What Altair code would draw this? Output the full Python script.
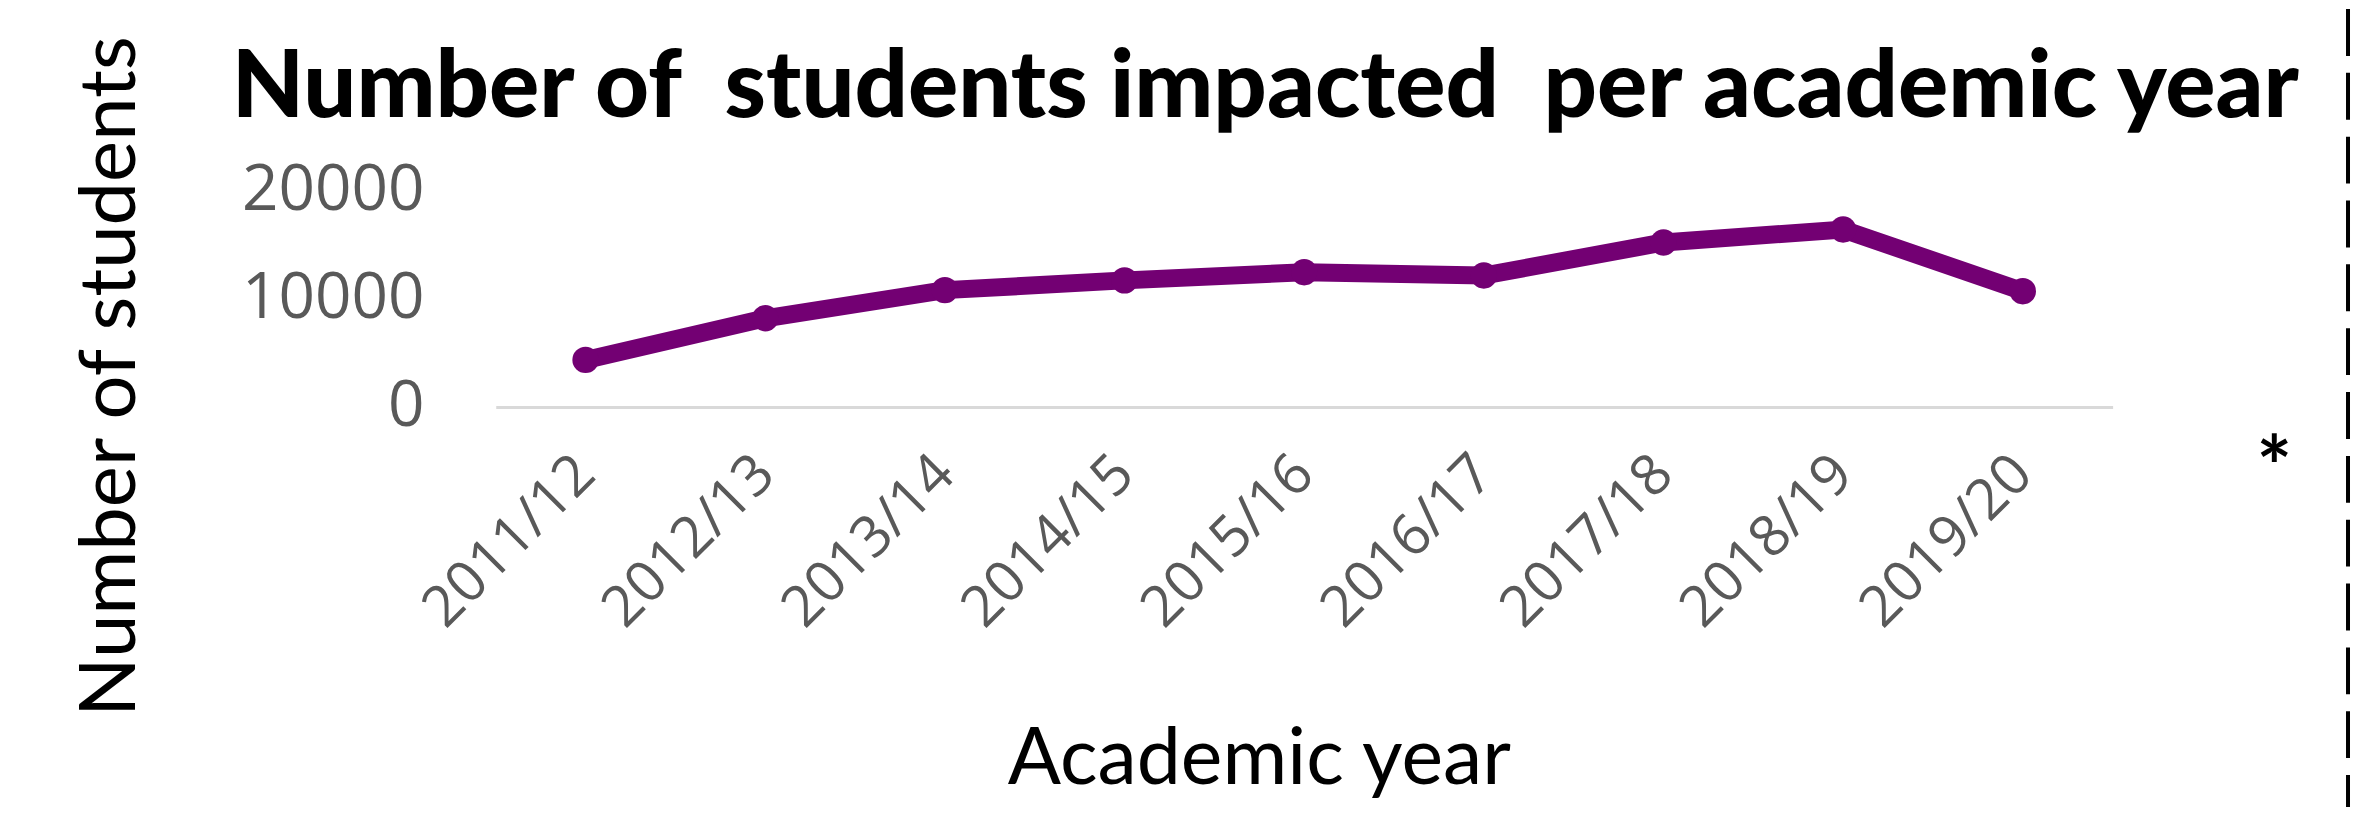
import altair as alt
import pandas as pd

years = ["2011/12", "2012/13", "2013/14", "2014/15", "2015/16",
         "2016/17", "2017/18", "2018/19", "2019/20"]
students = [4350, 8200, 10800, 11700, 12450, 12150, 15200, 16400, 10700]
y_ticks = [0, 10000, 20000]

df = pd.DataFrame({"year": years, "students": students})

PURPLE = "#730073"
LABEL_GRAY = "#595959"

x_enc = alt.X(
    "year:N",
    sort=years,
    scale=alt.Scale(type="point", padding=0.5),
    axis=alt.Axis(
        title="Academic year",
        labelAngle=315, labelAlign="right", labelBaseline="middle",
        labelPadding=58, labelFont="Open Sans", labelFontSize=57,
        labelColor=LABEL_GRAY, labelOverlap=False, labelLimit=0,
        ticks=False, grid=False,
        domain=True, domainColor="#d9d9d9", domainWidth=3,
        titleFont="Lato", titleFontSize=79, titleFontWeight="normal",
        titleColor="black", titleX=765, titleY=377,
        titleAlign="center", titleBaseline="alphabetic", titleAngle=0,
    ),
)
y_enc = alt.Y(
    "students:Q",
    scale=alt.Scale(domain=[0, 20000], nice=False, zero=True),
    axis=alt.Axis(
        title="Number of students",
        values=y_ticks, format="d",
        grid=False, domain=False, ticks=False,
        labelPadding=72, labelFont="Open Sans", labelFontSize=64,
        labelColor=LABEL_GRAY, labelLimit=0,
        titleFont="Lato", titleFontSize=78, titleFontWeight="normal",
        titleColor="black", titleAngle=270, titleX=-362, titleY=186,
        titleAlign="center", titleBaseline="alphabetic",
    ),
)

base = alt.Chart(df).encode(x=x_enc, y=y_enc)
line = base.mark_line(color=PURPLE, strokeWidth=18)
points = base.mark_circle(color=PURPLE, size=700, opacity=1)

one = pd.DataFrame({"a": [0]})
star = alt.Chart(one).mark_text(
    text="*", font="Lato", fontSize=84, fontWeight="bold", color="black",
    align="center", baseline="alphabetic",
).encode(x=alt.value(1783), y=alt.value(307))
border = alt.Chart(one).mark_rule(
    color="black", strokeWidth=4, strokeDash=[47, 17]
).encode(x=alt.value(1857), y=alt.value(-182), y2=alt.value(618))

chart = alt.layer(line, points, star, border).properties(
    width=1621,
    height=217,
    autosize=alt.AutoSizeParams(type="none"),
    padding={"left": 489, "top": 182, "right": 240, "bottom": 400},
    title=alt.TitleParams(
        text="Number of\u00a0 students impacted\u00a0 per academic year",
        font="Lato", fontSize=94, fontWeight=900, color="black",
        anchor="middle", frame="group", dx=-39, offset=-204,
        baseline="alphabetic",
    ),
).configure_view(stroke=None)

chart.save("out.html", embed_options={"renderer": "svg", "actions": False})
